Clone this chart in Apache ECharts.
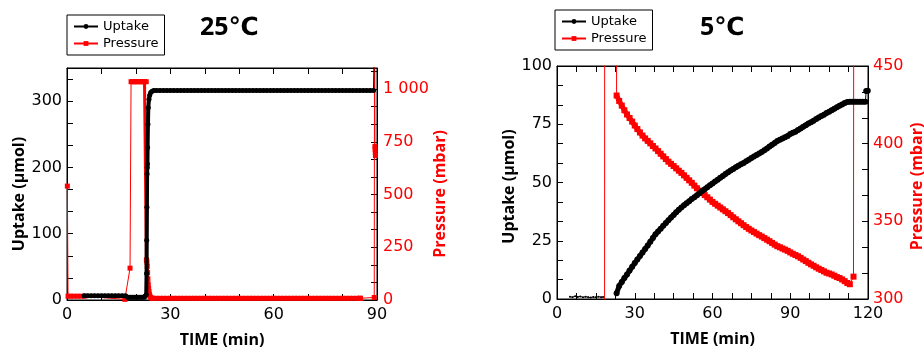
<!DOCTYPE html>
<html><head><meta charset="utf-8">
<script src="https://cdn.jsdelivr.net/npm/echarts@6/dist/echarts.min.js"></script>
<style>html,body{margin:0;padding:0;background:#fff}#c{width:924px;height:349px}</style>
</head><body><div id="c"></div>
<script>
// ===== 25 °C panel =====
const uptake25Time = [5,6,7,8,9,10,11,12,13,14,15,16,17,17.5,18,18.5,19,19.5,20,20.5,21,21.5,22,22.5,
  23.0,23.1,23.15,23.2,23.25,23.3,23.35,23.4,23.5,23.6,23.8,24.0,24.3,24.7,25.2,
  26,27,28,29,30,31,32,33,34,35,36,37,38,39,40,41,42,43,44,45,46,47,48,49,50,51,52,53,54,55,56,57,
  58,59,60,61,62,63,64,65,66,67,68,69,70,71,72,73,74,75,76,77,78,79,80,81,82,83,84,85,86,87,88,89,89.3];
const uptake25Value = [6.5,6.5,6.5,6.5,6.5,6.5,6.5,6.5,6.5,6.5,6.5,6.5,6.5,4,4,4,4,4,4,4,4,4,4,4,
  8,40,90,140,190,200,205,230,265,290,303,309,313,315,316,
  316,316,316,316,316,316,316,316,316,316,316,316,316,316,316,316,316,316,316,316,316,316,316,316,316,316,316,316,316,316,316,316,
  316,316,316,316,316,316,316,316,316,316,316,316,316,316,316,316,316,316,316,316,316,316,316,316,316,316,316,316,316,316,316,316,420];
const pressure25Time = [0.1,0.3,1,2,3,4,5,16.8,18.3,18.6,19,19.5,20,20.5,21,21.5,22,22.5,23.0,
  23.05,23.1,23.2,23.3,23.4,23.5,23.6,23.7,23.8,23.9,24.0,24.2,24.4,24.7,25,
  26,27,28,29,30,31,32,33,34,35,36,37,38,39,40,41,42,43,44,45,46,47,48,49,50,51,52,53,54,55,56,57,
  58,59,60,61,62,63,64,65,66,67,68,69,70,71,72,73,74,75,76,77,78,79,80,81,82,83,84,85,85.1,85.2,
  89.2,89.3,89.35,89.4,89.45,89.5,89.55];
const pressure25Value = [540,18,18,18,18,18,18,3,151,1035,1035,1035,1035,1035,1035,1035,1035,1035,1035,
  190,188,180,160,130,100,75,55,40,28,20,14,10,8,8,
  8,8,8,8,8,8,8,8,8,8,8,8,8,8,8,8,8,8,8,8,8,8,8,8,8,8,8,8,8,8,8,8,
  8,8,8,8,8,8,8,8,8,8,8,8,8,8,8,8,8,8,8,8,8,8,8,8,8,8,8,8,8,8,12,1500,
  1500,728,715,700,685,670,660];
const timeTicks25 = [0,30,60,90];
const uptakeTicks25 = [0,100,200,300];
const pressureTicks25 = [0,250,500,750,1000];
const pressureLabels25 = ['0','250','500','750','1 000'];

// ===== 5 °C panel =====
const uptake5EarlyTime = [5,6,7,8,9,10,11,12,13,14,15,16,17,17.8];
const uptake5EarlyValue = [1.0,0.8,1.2,0.9,1.1,0.7,1.0,0.8,0.6,0.9,0.7,1.0,0.8,0.9];
const uptake5Time = [23,24,25,26,27,28,29,30,31,32,33,34,35,36,37,38,39,40,41,42,43,44,45,46,47,48,49,50,
  51,52,53,54,55,56,57,58,59,60,61,62,63,64,65,66,67,68,69,70,71,72,73,74,75,76,77,78,79,80,
  81,82,83,84,85,86,87,88,89,90,91,92,93,94,95,96,97,98,99,100,101,102,103,104,105,106,107,108,109,110,
  111,112,113,114,115,116,117,118,119,119.3,119.9];
const uptake5Value = [2.5,5.6,7.3,9.0,10.5,12.2,13.8,15.4,17.0,18.5,20.0,21.5,23.0,24.6,26.2,27.8,29.0,30.2,31.4,32.6,33.8,35.0,36.1,37.2,38.3,39.3,40.2,41.1,
  42.0,42.9,43.7,44.5,45.4,46.3,47.1,48.0,48.8,49.6,50.4,51.2,52.0,52.8,53.6,54.4,55.1,55.8,56.5,57.2,57.8,58.4,59.1,59.8,60.5,61.2,61.8,62.4,63.1,63.8,
  64.6,65.4,66.2,67.0,67.8,68.4,68.9,69.4,70.0,70.8,71.3,71.8,72.5,73.2,73.9,74.6,75.3,75.9,76.5,77.2,77.9,78.5,79.1,79.8,80.4,81.0,81.6,82.3,82.9,83.5,
  84.1,84.5,84.7,84.7,84.7,84.7,84.7,84.7,84.7,89.3,89.4];
const pressure5Time = [18.3,18.5,22.8,23,24,25,26,27,28,29,30,31,32,33,34,35,36,37,38,39,40,41,42,43,44,45,46,47,48,49,50,
  51,52,53,54,55,56,57,58,59,60,61,62,63,64,65,66,67,68,69,70,71,72,73,74,75,76,77,78,79,80,
  81,82,83,84,85,86,87,88,89,90,91,92,93,94,95,96,97,98,99,100,101,102,103,104,105,106,107,108,109,110,
  111,112,113,114.4,114.5];
const pressure5Value = [5,1000,1000,431.0,427.5,424.5,421.5,418.8,416.5,414.2,411.7,409.4,407.2,405.2,403.4,401.8,400.2,398.5,396.9,395.2,393.5,391.8,390.1,388.4,387.0,385.6,384.1,382.6,381.2,379.6,378.0,
  376.4,374.8,373.0,371.3,369.8,368.4,366.9,365.5,364.0,362.5,361.3,360.1,358.9,357.7,356.5,355.3,354.0,352.6,351.3,350.0,348.8,347.5,346.3,345.2,344.1,343.1,342.1,341.1,340.2,339.2,
  338.2,337.2,336.1,335.0,334.0,333.3,332.5,331.8,331.0,330.0,329.1,328.3,327.5,326.5,325.4,324.4,323.3,322.3,321.4,320.4,319.5,318.7,317.8,316.9,316.4,315.8,315.0,314.1,313.5,312.6,
  311.5,310.3,309.5,314.4,520];
const timeTicks5 = [0,30,60,90,120];
const uptakeTicks5 = [0,25,50,75,100];
const pressureTicks5 = [300,350,400,450];

// time windows where the instrument logged densely (drawn as a heavy band)
const uptake25Dense = [[5, 89]];
const pressure25Dense = [[0.3, 5], [18.6, 23.0], [23.05, 85]];
const uptake5Dense = [[23, 119]];
const pressure5Dense = [[23, 113]];

// ===== helpers =====
const zip = (t, v) => t.map((x, i) => [x, v[i]]);
const zipDense = (t, v, ranges) => t.map((x, i) =>
  [x, ranges.some(r => x >= r[0] - 1e-9 && x <= r[1] + 1e-9) ? v[i] : null]);
const fmt = (ticks, labels) => v => {
  for (let i = 0; i < ticks.length; i++) {
    if (Math.abs(v - ticks[i]) < 1e-3) return labels ? labels[i] : String(ticks[i]);
  }
  return '';
};
const BLACK = '#000', RED = '#ff0000';
const tickFont = {fontFamily: 'DejaVu Sans', fontSize: 16};
const nameFont = {fontFamily: 'Open Sans', fontWeight: 'bold', fontSize: 16};
const aLine = {show: true, onZero: false, lineStyle: {color: BLACK, width: 1}};
const aTick = {show: true, inside: true, length: 6, lineStyle: {color: BLACK, width: 1}};

function xAxes(grid, max, interval, ticks) {
  return [
    {gridIndex: grid, type: 'value', position: 'bottom', min: 0, max: max, interval: interval,
     axisLine: aLine, axisTick: aTick, splitLine: {show: false},
     axisLabel: Object.assign({color: BLACK, margin: 7, formatter: fmt(ticks)}, tickFont),
     name: 'TIME (min)', nameLocation: 'middle', nameGap: 32,
     nameTextStyle: Object.assign({color: BLACK}, nameFont)},
    {gridIndex: grid, type: 'value', position: 'top', min: 0, max: max, interval: interval,
     axisLine: aLine, axisTick: aTick, splitLine: {show: false}, axisLabel: {show: false}}
  ];
}

const chart = echarts.init(document.getElementById('c'), null, {renderer: 'canvas'});
const lineCommon = {type: 'line', animation: false, sampling: null, clip: true,
  emphasis: {disabled: true}, connectNulls: false};
function markSeries(name, xi, yi, z, color, symbol, size, data) {
  return Object.assign({}, lineCommon, {name: name, xAxisIndex: xi, yAxisIndex: yi, z: z,
    symbol: symbol, symbolSize: size, showSymbol: true, showAllSymbol: true,
    itemStyle: {color: color}, lineStyle: {color: color, width: 1}, data: data});
}
function bandSeries(name, xi, yi, z, color, width, data) {
  return Object.assign({}, lineCommon, {name: name, xAxisIndex: xi, yAxisIndex: yi, z: z,
    symbol: 'none', showSymbol: false, itemStyle: {color: color},
    lineStyle: {color: color, width: width}, data: data});
}
function legendAt(left, top) {
  return {left: left, top: top, orient: 'vertical', data: ['Uptake', 'Pressure'],
    borderColor: BLACK, borderWidth: 1, backgroundColor: '#fff', borderRadius: 0,
    padding: [5, 6, 5, 6], itemGap: 4, itemWidth: 24, itemHeight: 6, selectedMode: false,
    textStyle: {fontFamily: 'DejaVu Sans', fontSize: 13, color: BLACK}};
}

const option = {
  animation: false,
  grid: [
    {left: 67, top: 68, width: 310, height: 232, outerBoundsMode: 'none', containLabel: false,
     show: true, borderColor: BLACK, borderWidth: 1, backgroundColor: 'transparent'},
    {left: 557, top: 66, width: 311, height: 233, outerBoundsMode: 'none', containLabel: false,
     show: true, borderColor: BLACK, borderWidth: 1, backgroundColor: 'transparent'}
  ],
  xAxis: [].concat(xAxes(0, 90, 10, timeTicks25), xAxes(1, 120, 7.5, timeTicks5)),
  yAxis: [
    {gridIndex: 0, type: 'value', position: 'left', min: 0, max: 350, interval: 100 / 3,
     axisLine: aLine, axisTick: aTick, splitLine: {show: false},
     axisLabel: Object.assign({color: BLACK, margin: 5, formatter: fmt(uptakeTicks25)}, tickFont),
     name: 'Uptake (µmol)', nameLocation: 'middle', nameGap: 38,
     nameTextStyle: Object.assign({color: BLACK, padding: [0, 20, 0, 0]}, nameFont)},
    {gridIndex: 0, type: 'value', position: 'right', min: 0, max: 1100, interval: 250 / 3,
     axisLine: aLine, axisTick: aTick, splitLine: {show: false},
     axisLabel: Object.assign({color: RED, margin: 6, formatter: fmt(pressureTicks25, pressureLabels25)}, tickFont),
     name: 'Pressure (mbar)', nameLocation: 'middle', nameGap: 55,
     nameTextStyle: Object.assign({color: RED, padding: [0, 20, 0, 0]}, nameFont)},
    {gridIndex: 1, type: 'value', position: 'left', min: 0, max: 100, interval: 25 / 3,
     axisLine: aLine, axisTick: aTick, splitLine: {show: false},
     axisLabel: Object.assign({color: BLACK, margin: 5, formatter: fmt(uptakeTicks5)}, tickFont),
     name: 'Uptake (µmol)', nameLocation: 'middle', nameGap: 40,
     nameTextStyle: Object.assign({color: BLACK, padding: [0, 8, 0, 0]}, nameFont)},
    {gridIndex: 1, type: 'value', position: 'right', min: 300, max: 450, interval: 50 / 3,
     axisLine: aLine, axisTick: aTick, splitLine: {show: false},
     axisLabel: Object.assign({color: RED, margin: 5, formatter: fmt(pressureTicks5)}, tickFont),
     name: 'Pressure (mbar)', nameLocation: 'middle', nameGap: 41,
     nameTextStyle: Object.assign({color: RED, padding: [0, 8, 0, 0]}, nameFont)}
  ],
  legend: [legendAt(67, 15), legendAt(555, 10)],
  graphic: [
    {type: 'text', left: 200, top: 15, style: {text: '25℃', font: 'bold 25px "Open Sans", "DejaVu Sans", sans-serif', fill: BLACK}},
    {type: 'text', left: 700, top: 15, style: {text: '5℃', font: 'bold 25px "Open Sans", "DejaVu Sans", sans-serif', fill: BLACK}}
  ],
  series: [
    // thin lines with markers (these also define the legend icons)
    markSeries('Uptake', 0, 0, 6, BLACK, 'circle', 5, zip(uptake25Time, uptake25Value)),
    markSeries('Pressure', 0, 1, 4, RED, 'rect', 5, zip(pressure25Time, pressure25Value)),
    markSeries('Uptake', 2, 2, 6, BLACK, 'circle', 2, zip(uptake5EarlyTime, uptake5EarlyValue)),
    markSeries('Uptake', 2, 2, 6, BLACK, 'circle', 6, zip(uptake5Time, uptake5Value)),
    markSeries('Pressure', 2, 3, 4, RED, 'rect', 6, zip(pressure5Time, pressure5Value)),
    // heavy bands where samples are dense
    bandSeries('Uptake', 0, 0, 5, BLACK, 4, zipDense(uptake25Time, uptake25Value, uptake25Dense)),
    bandSeries('Pressure', 0, 1, 3, RED, 3, zipDense(pressure25Time, pressure25Value, pressure25Dense)),
    bandSeries('Uptake', 2, 2, 5, BLACK, 5, zipDense(uptake5Time, uptake5Value, uptake5Dense)),
    bandSeries('Pressure', 2, 3, 3, RED, 5, zipDense(pressure5Time, pressure5Value, pressure5Dense)),
    // keep the mirrored top axes bound to a series
    {type: 'line', xAxisIndex: 1, yAxisIndex: 0, data: [], silent: true},
    {type: 'line', xAxisIndex: 3, yAxisIndex: 2, data: [], silent: true}
  ]
};
chart.setOption(option);
</script></body></html>
